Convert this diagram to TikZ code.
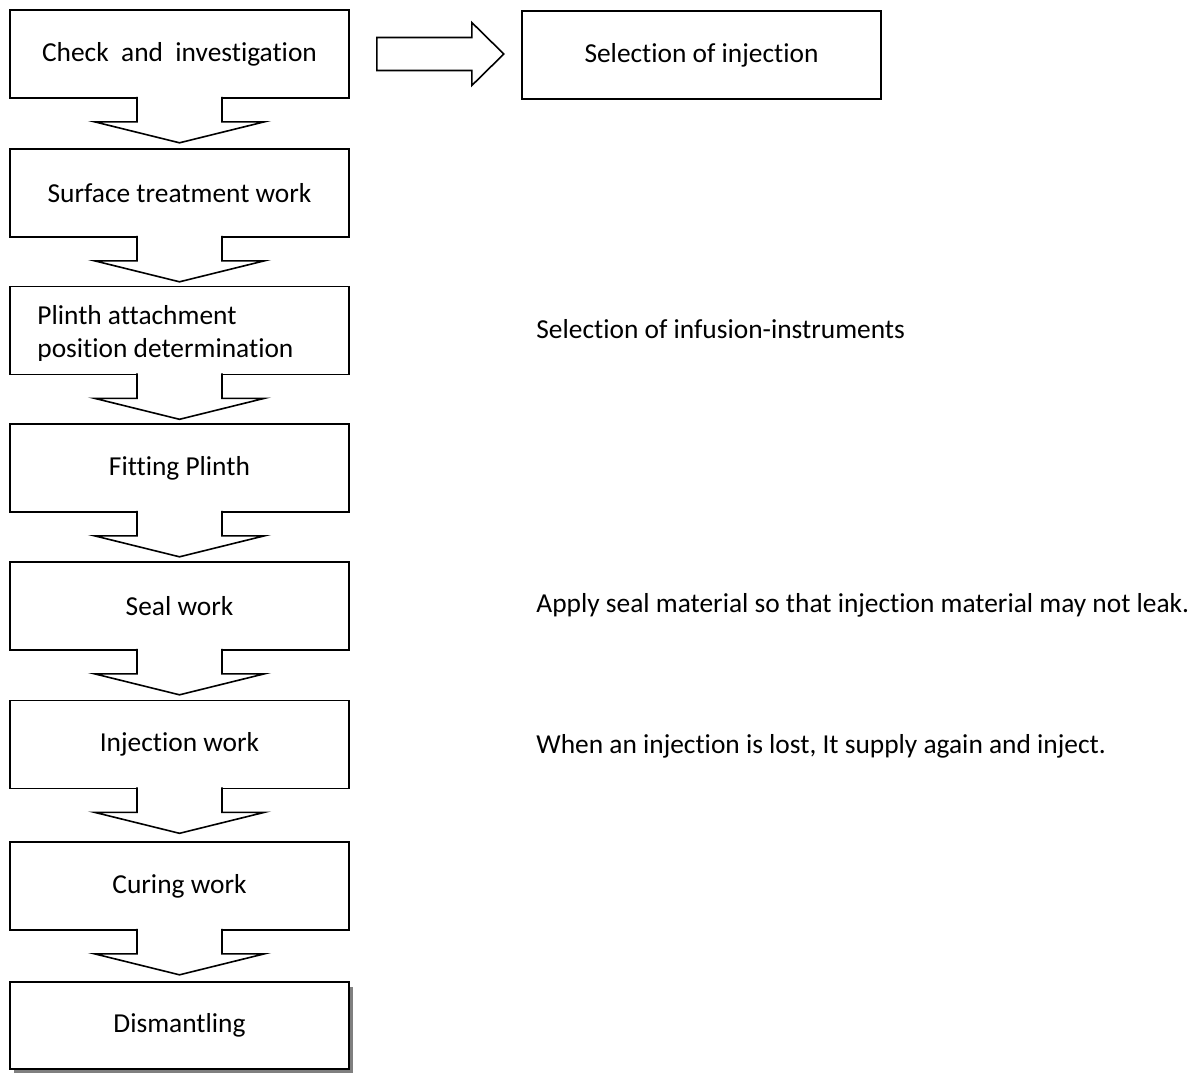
\documentclass[tikz,border=0pt]{standalone}
\usepackage{fontspec}
\setmainfont{Carlito}[Ligatures=NoCommon]
\usetikzlibrary{positioning, calc, shadows}
\tikzset{
  stepbox/.style = {draw, fill=white, line width=0.8pt, minimum width=169.5pt,
    minimum height=44pt, inner sep=0pt, font=\fontsize{13.7}{16.5}\selectfont},
  note/.style = {anchor=west, inner sep=0pt, font=\fontsize{13.7}{16.5}\selectfont},
  blockarrow/.style = {draw, fill=white, line width=0.8pt, line join=miter}
}
% hollow arrow hanging under a box
\newcommand{\downblock}[1]{%
  \draw[blockarrow] ($(#1.south)+(-42.5,-2)$) -- ++(0,25) -- ++(-42.5,0)
    -- ++(85,21) -- ++(85,-21) -- ++(-42.5,0) -- ++(0,-25);
}

\begin{document}
\begin{tikzpicture}[x=0.5pt, y=-0.5pt]
  \useasboundingbox (0,0) rectangle (1197,1072);

  % Check and investigation
  \node[stepbox] (check) at (179.5,54) {Check\ \ and\ \ investigation};
  \node[stepbox, minimum width=179.5pt] (injsel) at (701.5,55) {Selection of injection};

  % arrow to the right
  \draw[blockarrow] ($(check.east)+(27,-16.5)$) -- ++(95,0) -- ++(0,-15)
    -- ++(32,31.5) -- ++(-32,31.5) -- ++(0,-15) -- ++(-95,0) -- cycle;

  % Surface treatment
  \node[stepbox] (surface) at (179.5,193) {Surface treatment work};

  % Plinth position, text cut off by its frame
  \node[stepbox] (plinth) at (179.5,330.5) {};
  \begin{scope}
    \clip (plinth.north west) rectangle ($(plinth.south east)+(0,-15)$);
    \node[anchor=base west, align=left, inner sep=0pt,
      font=\fontsize{13.7}{16.5}\selectfont] (plinthtxt) at (37,357)
      {Plinth attachment\\position determination};
  \end{scope}
  \node[note] (infusion) at (536,329) {Selection of infusion-instruments};

  % Fitting
  \node[stepbox] (fitting) at (179.5,468) {Fitting Plinth};

  % Seal
  \node[stepbox] (seal) at (179.5,606) {Seal work};
  \node[note] (sealnote) at (536,605) {Apply seal material so that injection material may not leak.};

  % Injection
  \node[stepbox] (inject) at (179.5,744.5) {Injection work};
  \node[note] (injnote) at (536,746) {When an injection is lost, It supply again and inject.};

  % Curing
  \node[stepbox] (curing) at (179.5,886) {Curing work};

  % Dismantling
  \node[stepbox, minimum height=43.5pt,
    drop shadow={shadow xshift=2pt, shadow yshift=-2.5pt, fill=gray, opacity=1}]
    (dismantle) at (179.5,1025.5) {Dismantling};

  % arrows down the column
  \downblock{check}
  \downblock{surface}
  \downblock{plinth}
  \downblock{fitting}
  \downblock{seal}
  \downblock{inject}
  \downblock{curing}

\end{tikzpicture}
\end{document}
